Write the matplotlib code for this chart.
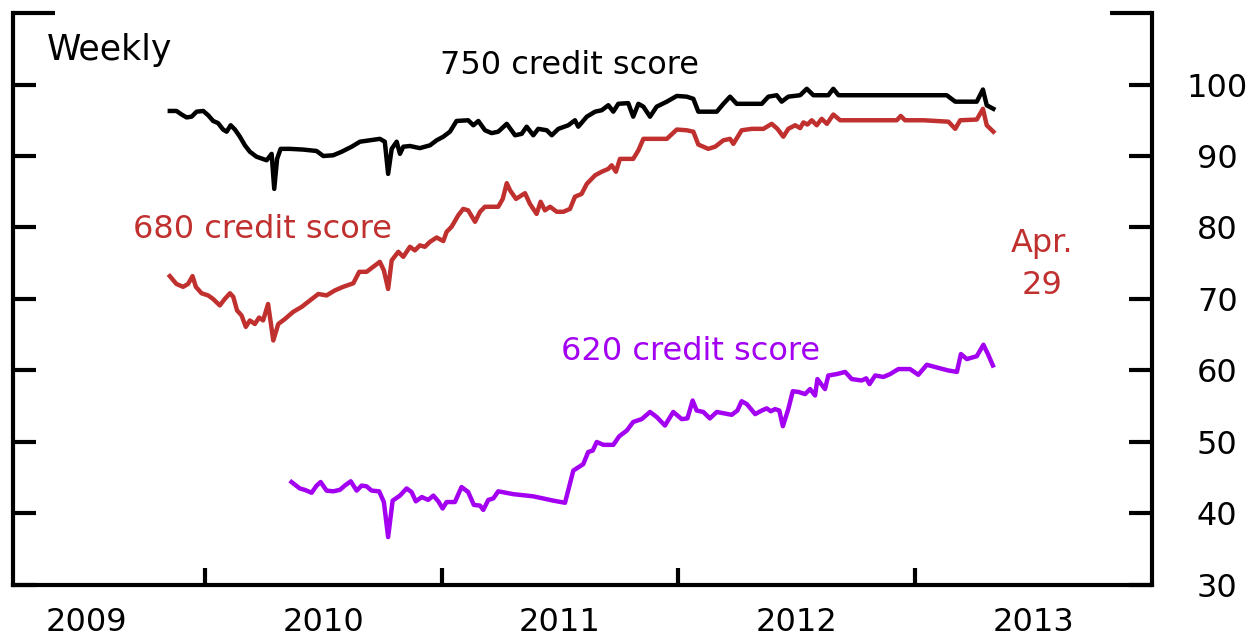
import matplotlib
matplotlib.use('Agg')
import matplotlib.pyplot as plt
from matplotlib.ticker import FixedLocator, NullFormatter

plt.rcParams['font.family'] = ['DejaVu Sans']

# weekly readings, dates as decimal years
years_750 = [2009.852, 2009.880, 2009.902, 2009.923, 2009.944, 2009.965, 2009.993, 2010.014,
             2010.035, 2010.056, 2010.077, 2010.092, 2010.109, 2010.127, 2010.148, 2010.169,
             2010.190, 2010.218, 2010.261, 2010.282, 2010.293, 2010.305, 2010.320, 2010.359,
             2010.415, 2010.472, 2010.500, 2010.542, 2010.578, 2010.620, 2010.655, 2010.697,
             2010.739, 2010.760, 2010.774, 2010.789, 2010.810, 2010.824, 2010.838, 2010.866,
             2010.908, 2010.951, 2010.979, 2011.007, 2011.035, 2011.063, 2011.112, 2011.134,
             2011.155, 2011.183, 2011.211, 2011.239, 2011.275, 2011.310, 2011.338, 2011.359,
             2011.387, 2011.408, 2011.444, 2011.465, 2011.493, 2011.535, 2011.563, 2011.577,
             2011.613, 2011.648, 2011.676, 2011.704, 2011.725, 2011.746, 2011.788, 2011.809,
             2011.831, 2011.852, 2011.880, 2011.908, 2011.951, 2011.993, 2012.035, 2012.063,
             2012.084, 2012.133, 2012.162, 2012.190, 2012.218, 2012.246, 2012.289, 2012.352,
             2012.380, 2012.415, 2012.436, 2012.464, 2012.514, 2012.542, 2012.570, 2012.633,
             2012.654, 2012.676, 2012.753, 2013.133, 2013.169, 2013.260, 2013.286, 2013.302,
             2013.330]
score_750 = [96.3, 96.3, 95.8, 95.4, 95.5, 96.2, 96.3, 95.7,
             94.9, 94.6, 93.7, 93.4, 94.3, 93.7, 92.7, 91.5,
             90.6, 89.9, 89.4, 90.3, 85.4, 89.6, 91.0, 91.0,
             90.9, 90.7, 90.0, 90.1, 90.6, 91.3, 92.0, 92.2,
             92.4, 92.0, 87.5, 91.0, 92.0, 90.3, 91.3, 91.4,
             91.1, 91.5, 92.2, 92.7, 93.4, 94.9, 95.0, 94.3,
             94.9, 93.6, 93.2, 93.4, 94.5, 92.9, 93.1, 94.1,
             92.9, 93.8, 93.6, 92.9, 93.8, 94.3, 95.0, 94.1,
             95.5, 96.2, 96.4, 97.1, 96.2, 97.3, 97.4, 95.5,
             97.3, 96.9, 95.5, 96.9, 97.6, 98.4, 98.3, 98.0,
             96.2, 96.2, 96.2, 97.3, 98.3, 97.3, 97.3, 97.3,
             98.3, 98.5, 97.6, 98.3, 98.5, 99.4, 98.5, 98.5,
             99.4, 98.5, 98.5, 98.5, 97.6, 97.6, 99.3, 97.1,
             96.6]

years_680 = [2009.852, 2009.880, 2009.908, 2009.929, 2009.948, 2009.962, 2009.986, 2010.014,
             2010.035, 2010.063, 2010.084, 2010.106, 2010.120, 2010.136, 2010.155, 2010.173,
             2010.190, 2010.211, 2010.229, 2010.246, 2010.267, 2010.289, 2010.310, 2010.338,
             2010.373, 2010.409, 2010.444, 2010.479, 2010.514, 2010.549, 2010.584, 2010.627,
             2010.652, 2010.683, 2010.711, 2010.739, 2010.756, 2010.774, 2010.789, 2010.817,
             2010.838, 2010.866, 2010.887, 2010.908, 2010.929, 2010.951, 2010.979, 2011.007,
             2011.021, 2011.042, 2011.070, 2011.091, 2011.112, 2011.141, 2011.162, 2011.183,
             2011.239, 2011.258, 2011.275, 2011.289, 2011.314, 2011.352, 2011.373, 2011.401,
             2011.418, 2011.436, 2011.458, 2011.486, 2011.514, 2011.542, 2011.563, 2011.591,
             2011.613, 2011.648, 2011.676, 2011.704, 2011.718, 2011.736, 2011.753, 2011.809,
             2011.831, 2011.852, 2011.951, 2011.993, 2012.035, 2012.063, 2012.084, 2012.126,
             2012.155, 2012.190, 2012.218, 2012.232, 2012.267, 2012.310, 2012.359, 2012.394,
             2012.418, 2012.443, 2012.464, 2012.493, 2012.514, 2012.528, 2012.545, 2012.563,
             2012.584, 2012.605, 2012.627, 2012.654, 2012.683, 2012.922, 2012.939, 2012.957,
             2013.035, 2013.140, 2013.169, 2013.190, 2013.260, 2013.286, 2013.302, 2013.330]
score_680 = [73.2, 72.1, 71.7, 72.1, 73.2, 71.7, 70.8, 70.5,
             70.0, 69.1, 70.0, 70.8, 70.3, 68.4, 67.7, 66.1,
             67.0, 66.5, 67.4, 67.0, 69.3, 64.2, 66.5, 67.2,
             68.2, 68.9, 69.8, 70.7, 70.5, 71.2, 71.7, 72.2,
             73.8, 73.8, 74.5, 75.2, 74.0, 71.4, 75.4, 76.6,
             75.9, 77.3, 76.8, 77.5, 77.3, 78.0, 78.6, 78.1,
             79.4, 80.1, 81.7, 82.6, 82.4, 80.8, 82.2, 82.9,
             82.9, 84.0, 86.2, 85.2, 84.0, 84.8, 83.3, 81.9,
             83.6, 82.4, 82.9, 82.2, 82.2, 82.6, 84.3, 84.7,
             86.1, 87.3, 87.8, 88.2, 88.7, 87.8, 89.6, 89.6,
             90.8, 92.4, 92.4, 93.7, 93.6, 93.4, 91.6, 91.0,
             91.3, 92.2, 92.4, 91.7, 93.6, 93.8, 93.8, 94.5,
             93.8, 92.7, 93.8, 94.3, 93.9, 94.7, 94.4, 95.0,
             94.3, 95.2, 94.5, 95.8, 95.0, 95.0, 95.6, 95.0,
             95.0, 94.8, 93.8, 95.0, 95.1, 96.6, 94.3, 93.4]

years_620 = [2010.366, 2010.401, 2010.422, 2010.451, 2010.472, 2010.489, 2010.514, 2010.542,
             2010.570, 2010.591, 2010.616, 2010.641, 2010.662, 2010.683, 2010.704, 2010.736,
             2010.756, 2010.774, 2010.793, 2010.824, 2010.852, 2010.873, 2010.891, 2010.916,
             2010.943, 2010.965, 2010.986, 2011.004, 2011.021, 2011.056, 2011.084, 2011.112,
             2011.136, 2011.162, 2011.176, 2011.197, 2011.218, 2011.239, 2011.303, 2011.387,
             2011.471, 2011.521, 2011.556, 2011.584, 2011.598, 2011.619, 2011.638, 2011.655,
             2011.683, 2011.725, 2011.750, 2011.782, 2011.809, 2011.845, 2011.880, 2011.908,
             2011.943, 2011.978, 2012.014, 2012.038, 2012.060, 2012.077, 2012.105, 2012.133,
             2012.162, 2012.225, 2012.249, 2012.267, 2012.289, 2012.324, 2012.352, 2012.373,
             2012.390, 2012.408, 2012.426, 2012.441, 2012.464, 2012.483, 2012.507, 2012.535,
             2012.556, 2012.577, 2012.587, 2012.605, 2012.619, 2012.633, 2012.669, 2012.704,
             2012.732, 2012.774, 2012.793, 2012.807, 2012.831, 2012.866, 2012.894, 2012.929,
             2012.978, 2013.013, 2013.049, 2013.105, 2013.140, 2013.176, 2013.193, 2013.218,
             2013.260, 2013.288, 2013.307, 2013.328]
score_620 = [44.4, 43.5, 43.3, 42.9, 43.9, 44.4, 43.2, 43.1,
             43.3, 43.9, 44.5, 43.2, 43.9, 43.8, 43.2, 43.1,
             41.6, 36.7, 41.8, 42.5, 43.5, 43.0, 41.7, 42.3,
             41.9, 42.5, 41.7, 40.7, 41.6, 41.6, 43.7, 43.0,
             41.2, 41.1, 40.5, 41.9, 42.1, 43.1, 42.7, 42.4,
             41.8, 41.5, 46.0, 46.6, 46.9, 48.6, 48.8, 50.0,
             49.6, 49.6, 50.8, 51.6, 52.8, 53.2, 54.2, 53.5,
             52.3, 54.2, 53.2, 53.3, 55.8, 54.4, 54.2, 53.3,
             54.2, 53.8, 54.4, 55.7, 55.3, 53.9, 54.4, 54.7,
             54.3, 54.6, 54.4, 52.2, 54.6, 57.1, 57.0, 56.7,
             57.4, 56.5, 58.8, 58.0, 57.4, 59.3, 59.5, 59.8,
             58.8, 58.6, 58.9, 58.1, 59.3, 59.1, 59.5, 60.2,
             60.2, 59.4, 60.8, 60.3, 60.0, 59.8, 62.3, 61.6,
             62.0, 63.6, 62.3, 60.7]

year_bounds = [2010, 2011, 2012, 2013]
year_mids = [2009.5, 2010.5, 2011.5, 2012.5, 2013.5]
year_labels = ['2009', '2010', '2011', '2012', '2013']
y_ticks = [30, 40, 50, 60, 70, 80, 90, 100]

RED = '#c0302f'
PURPLE = '#a300f2'

fig = plt.figure(figsize=(12.56, 6.41), dpi=100)
ax = fig.add_axes([0.0104, 0.0874, 0.9068, 0.8923])

ax.plot(years_750, score_750, color='black', lw=3.2, solid_joinstyle='round')
ax.plot(years_680, score_680, color=RED, lw=3.2, solid_joinstyle='round')
ax.plot(years_620, score_620, color=PURPLE, lw=3.2, solid_joinstyle='round')

ax.set_xlim(2009.19, 2014.0)
ax.set_ylim(30, 110)

for side in ['left', 'right', 'bottom']:
    ax.spines[side].set_linewidth(3)
ax.spines['top'].set_visible(False)

# x: year boundaries as ticks, labels centred in each year
ax.xaxis.set_major_locator(FixedLocator(year_bounds))
ax.xaxis.set_major_formatter(NullFormatter())
ax.xaxis.set_minor_locator(FixedLocator(year_mids))
ax.set_xticklabels(year_labels, minor=True)
ax.tick_params(axis='x', which='major', direction='in', length=12, width=3)
ax.tick_params(axis='x', which='minor', direction='in', length=0, pad=16, labelsize=23)

# y: ticks on both sides, labels on right; long caps at the top
ax.yaxis.set_major_locator(FixedLocator(y_ticks))
ax.yaxis.set_minor_locator(FixedLocator([110]))
ax.tick_params(axis='y', which='both', direction='in', left=True, right=True,
               labelleft=False, labelright=True, width=3)
ax.tick_params(axis='y', which='major', length=16.5, pad=47, labelsize=23)
ax.tick_params(axis='y', which='minor', length=30, labelright=False)
for lbl in ax.get_yticklabels():
    lbl.set_horizontalalignment('center')

ax.text(2009.333, 103.4, 'Weekly', fontsize=25, va='baseline')
ax.text(2010.993, 101.5, '750 credit score', fontsize=23, va='baseline')
ax.text(2009.696, 78.6, '680 credit score', fontsize=23, color=RED, va='baseline')
ax.text(2011.504, 61.4, '620 credit score', fontsize=23, color=PURPLE, va='baseline')
ax.text(2013.536, 76.6, 'Apr.', fontsize=23, color=RED, ha='center', va='baseline')
ax.text(2013.536, 70.7, '29', fontsize=23, color=RED, ha='center', va='baseline')

fig.savefig('out.png', dpi=100)
